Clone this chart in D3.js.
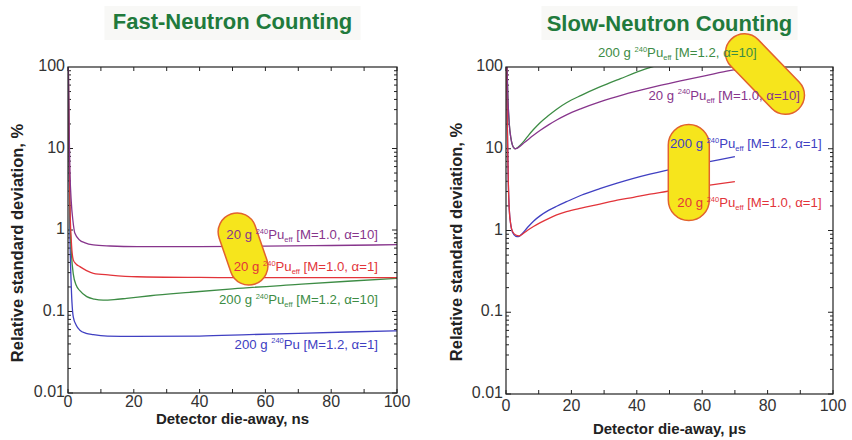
<!DOCTYPE html>
<html><head><meta charset="utf-8">
<script src="https://cdn.jsdelivr.net/npm/d3@7"></script>
<style>
body{margin:0;background:#fff;}
svg{display:block;font-family:"Liberation Sans",Arial,sans-serif;}
</style></head>
<body><svg id="c" width="852" height="440"></svg>
<script>
// ---- data ----
const titles = ["Fast-Neutron Counting", "Slow-Neutron Counting"];
const xTitles = ["Detector die-away, ns", "Detector die-away, \u03bcs"];
const yTitle = "Relative standard deviation, %";
const xTicks = [0, 20, 40, 60, 80, 100];
const xMinorTicks = [10, 30, 50, 70, 90];
const yTicks = [0.01, 0.1, 1, 10, 100];
const yTickLabels = ["0.01", "0.1", "1", "10", "100"];
const seriesNames = ["M=1.0, \u03b1=10", "M=1.0, \u03b1=1", "M=1.2, \u03b1=10", "M=1.2, \u03b1=1"];
const seriesColors = ["#87358c", "#e2343a", "#3d8c45", "#4040c2"];

// Fast-neutron counting (x in ns)
const fastPurpleX = [0.1,0.3,0.6,1,1.5,2.1,3.6,5,7.7,12.8,21,40,60,80,100];
const fastPurpleY = [100,20,5,2.2,1.3,0.91,0.75,0.70,0.655,0.636,0.625,0.625,0.635,0.645,0.66];
const fastRedX = [0.1,0.3,0.6,1,1.6,2.5,3.6,5.5,7.7,12.8,21,40,60,80,100];
const fastRedY = [100,15,2,0.75,0.43,0.38,0.355,0.32,0.294,0.28,0.267,0.262,0.26,0.26,0.26];
const fastGreenX = [0.1,0.3,0.6,1,1.6,2.5,3.6,5.7,8,10.7,14,17.8,25,37,50,70,85,100];
const fastGreenY = [100,12,1.5,0.55,0.29,0.21,0.18,0.152,0.142,0.138,0.14,0.145,0.156,0.172,0.19,0.215,0.235,0.255];
const fastBlueX = [0.1,0.3,0.6,1,1.6,2.5,3.6,5.5,7.7,12,20,40,55,70,85,100];
const fastBlueY = [100,8,0.8,0.2,0.086,0.068,0.059,0.054,0.052,0.05,0.0495,0.05,0.052,0.054,0.056,0.058];

// Slow-neutron counting (x in microseconds)
const slowPurpleX = [0.3,0.6,1,1.5,2,2.75,3.5,4.5,5.5,7,8.4,10.5,13,15.5,18.5,23,28.7,36,44,53,60,67.5,70];
const slowPurpleY = [100,40,20,13.5,11,10,10.2,10.9,11.8,13.2,14.6,16.8,19.6,22.5,26,31,37.5,46,55.5,67,77,89,93];
const slowRedX = [0.2,0.4,0.7,1,1.5,2,3,4,5,6.5,8.4,10.5,13,15.5,18.5,23,28.7,34,39,44,49,55,60,65,70];
const slowRedY = [100,20,4,1.8,1.15,0.97,0.88,0.86,0.9,1.0,1.12,1.25,1.4,1.55,1.7,1.88,2.1,2.35,2.55,2.78,3.0,3.3,3.5,3.72,3.95];
const slowGreenX = [0.3,0.6,1,1.5,2,2.75,3.5,4.5,5.5,7,8.4,10.5,13,15.5,18.5,23,28.7,35,42.5,48];
const slowGreenY = [100,40,20,13.5,11,10,10.3,11.2,12.4,14.8,17.2,21,25.5,30.5,36.5,45,57,72,94,110];
const slowBlueX = [0.2,0.4,0.7,1,1.5,2,3,3.8,5,6.5,8.4,10.5,13,15.5,18.5,23,28.7,34,39,44,49,55,60,65,70];
const slowBlueY = [100,20,4,1.8,1.15,0.95,0.85,0.84,0.92,1.08,1.3,1.52,1.76,1.98,2.25,2.7,3.25,3.8,4.35,4.9,5.45,6.1,6.7,7.3,8.0];

// label texts: [mass, superscript, subscript, bracket]
const fastLabels = [
  ["20 g ", "240", "eff", " [M=1.0, \u03b1=10]"],
  ["20 g ", "240", "eff", " [M=1.0, \u03b1=1]"],
  ["200 g ", "240", "eff", " [M=1.2, \u03b1=10]"],
  ["200 g ", "240", "", " [M=1.2, \u03b1=1]"]
];
const slowLabels = [
  ["20 g ", "240", "eff", " [M=1.0, \u03b1=10]"],
  ["20 g ", "240", "eff", " [M=1.0, \u03b1=1]"],
  ["200 g ", "240", "eff", " [M=1.2, \u03b1=10]"],
  ["200 g ", "240", "eff", " [M=1.2, \u03b1=1]"]
];
// label anchors (data coordinates: right end, baseline)
const fastLabelX = [94.2, 94.2, 94.2, 94.2];
const fastLabelY = [0.775, 0.314, 0.123, 0.0348];
const slowLabelX = [89.9, 96.5, 76.7, 96.5];
const slowLabelY = [39.5, 1.92, 131, 10.1];
// highlight pills (center in data coords, rotation deg)
const fastPills = [{x:53.2, y:0.585, len:74, wid:38, rot:-19}];
const slowPills = [{x:79.2, y:82, len:97, wid:38, rot:-44}, {x:55.9, y:5.12, len:96, wid:41, rot:0}];

const panels = [
  {x0:68, x1:397, y0:67, y1:393, title:titles[0], titleY:29, xt:xTitles[0], xtY:424, ytX:17, ytY:243,
   series:[[fastPurpleX,fastPurpleY],[fastRedX,fastRedY],[fastGreenX,fastGreenY],[fastBlueX,fastBlueY]],
   labels:fastLabels, lx:fastLabelX, ly:fastLabelY, pills:fastPills, xlabDy:14},
  {x0:506, x1:833, y0:67, y1:394, title:titles[1], titleY:31, xt:xTitles[1], xtY:434, ytX:456, ytY:242,
   series:[[slowPurpleX,slowPurpleY],[slowRedX,slowRedY],[slowGreenX,slowGreenY],[slowBlueX,slowBlueY]],
   labels:slowLabels, lx:slowLabelX, ly:slowLabelY, pills:slowPills, xlabDy:17}
];

const svg = d3.select("#c");
const defs = svg.append("defs");
const LF = 13.2;

panels.forEach((p, pi) => {
  const x = d3.scaleLinear().domain([0, 100]).range([p.x0, p.x1]);
  const y = d3.scaleLog().domain([0.01, 100]).range([p.y1, p.y0]);
  const cx = (p.x0 + p.x1) / 2;
  const g = svg.append("g");

  // title
  g.append("rect").attr("x", cx - 128).attr("y", 6).attr("width", 256).attr("height", 34).attr("fill", "#f8f8f6");
  g.append("text").attr("x", cx).attr("y", p.titleY).attr("text-anchor", "middle")
    .attr("font-size", 22).attr("font-weight", "bold").attr("fill", "#217a3c").text(p.title);

  // clip
  defs.append("clipPath").attr("id", "clip" + pi).append("rect")
    .attr("x", p.x0).attr("y", p.y0).attr("width", p.x1 - p.x0).attr("height", p.y1 - p.y0);

  // ticks
  const tk = g.append("g").attr("stroke", "#222").attr("stroke-width", 1);
  xTicks.concat(xMinorTicks).forEach(v => {
    const len = 4;
    tk.append("line").attr("x1", x(v)).attr("x2", x(v)).attr("y1", p.y1).attr("y2", p.y1 - len);
    tk.append("line").attr("x1", x(v)).attr("x2", x(v)).attr("y1", p.y0).attr("y2", p.y0 + len);
  });
  const decades = [0.01, 0.1, 1, 10];
  decades.forEach(d => {
    for (let k = 1; k <= 9; k++) {
      const v = d * k;
      const len = k === 1 ? 5 : 3;
      tk.append("line").attr("x1", p.x0).attr("x2", p.x0 + len).attr("y1", y(v)).attr("y2", y(v));
      tk.append("line").attr("x1", p.x1).attr("x2", p.x1 - len).attr("y1", y(v)).attr("y2", y(v));
    }
  });

  // tick labels
  xTicks.forEach(v => {
    g.append("text").attr("x", x(v)).attr("y", p.y1 + p.xlabDy).attr("text-anchor", "middle")
      .attr("font-size", 16).attr("fill", "#333").text(v);
  });
  yTicks.forEach((v, i) => {
    g.append("text").attr("x", p.x0 - 3).attr("y", y(v) + 4).attr("text-anchor", "end")
      .attr("font-size", 16).attr("fill", "#333").text(yTickLabels[i]);
  });

  // axis titles
  g.append("text").attr("x", cx).attr("y", p.xtY).attr("text-anchor", "middle")
    .attr("font-size", 15).attr("font-weight", "bold").attr("fill", "#222").text(p.xt);
  g.append("text").attr("transform", `translate(${p.ytX},${p.ytY}) rotate(-90)`)
    .attr("dy", "0.35em").attr("text-anchor", "middle")
    .attr("font-size", 16.5).attr("font-weight", "bold").attr("fill", "#222").text(yTitle);

  // curves
  const line = d3.line().x(d => x(d[0])).y(d => y(d[1])).curve(d3.curveMonotoneX);
  const cg = g.append("g").attr("clip-path", `url(#clip${pi})`);
  [3, 2, 1, 0].forEach(si => {
    const [xs, ys] = p.series[si];
    const pts = xs.map((v, i) => [v, ys[i]]);
    cg.append("path").attr("d", line(pts)).attr("fill", "none")
      .attr("stroke", seriesColors[si]).attr("stroke-width", 1.3);
  });

  // frame
  g.append("rect").attr("x", p.x0).attr("y", p.y0).attr("width", p.x1 - p.x0).attr("height", p.y1 - p.y0)
    .attr("fill", "none").attr("stroke", "#222").attr("stroke-width", 1.2);

  // pills
  p.pills.forEach(pl => {
    g.append("rect").attr("x", -pl.wid / 2).attr("y", -pl.len / 2).attr("width", pl.wid).attr("height", pl.len)
      .attr("rx", pl.wid / 2).attr("ry", pl.wid / 2)
      .attr("transform", `translate(${x(pl.x)},${y(pl.y)}) rotate(${pl.rot})`)
      .attr("fill", "#f6e51c").attr("stroke", "#e2622e").attr("stroke-width", 1.5);
  });

  // labels
  p.labels.forEach((lb, i) => {
    const t = g.append("text").attr("x", x(p.lx[i])).attr("y", y(p.ly[i])).attr("text-anchor", "end")
      .attr("font-size", LF).attr("fill", seriesColors[i]);
    t.append("tspan").text(lb[0]);
    t.append("tspan").attr("font-size", 7.5).attr("dy", -5.5).text(lb[1]);
    t.append("tspan").attr("font-size", LF).attr("dy", 5.5).text("Pu");
    if (lb[2]) {
      t.append("tspan").attr("font-size", 7.5).attr("dy", 3).text(lb[2]);
      t.append("tspan").attr("font-size", LF).attr("dy", -3).text(lb[3]);
    } else {
      t.append("tspan").attr("font-size", LF).text(lb[3]);
    }
  });
});
</script></body></html>
